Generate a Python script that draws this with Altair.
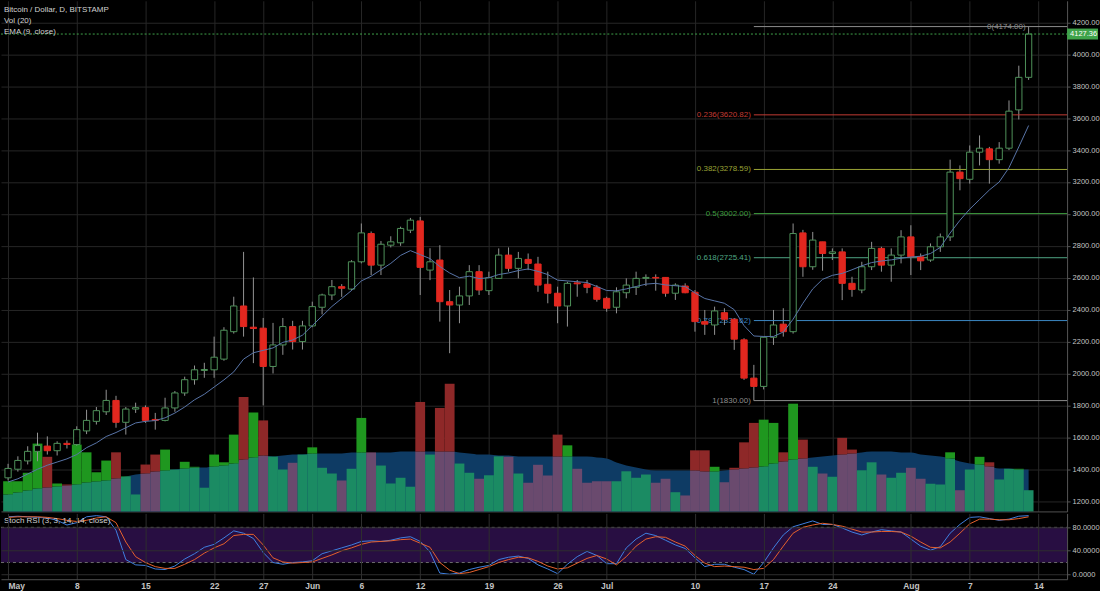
import json
import altair as alt
import pandas as pd

# ---------------- data ----------------
# day index 0 = 1 May 2017 ... 104 = 13 Aug 2017
opens = [1346, 1400, 1452, 1512, 1545, 1516, 1562, 1555, 1640, 1700,
         1760, 1831, 1694, 1777, 1786, 1712, 1706, 1784, 1878, 1961,
         2019, 2023, 2090, 2262, 2423, 2290, 2284, 2044, 2179, 2294,
         2200, 2298, 2415, 2492, 2544, 2529, 2700, 2877, 2679, 2804,
         2819, 2898, 2956, 2648, 2711, 2450, 2429, 2486, 2638, 2519,
         2596, 2742, 2659, 2715, 2686, 2559, 2503, 2423, 2568, 2561,
         2540, 2471, 2415, 2506, 2540, 2596, 2602, 2602, 2503, 2548,
         2509, 2325, 2304, 2381, 2340, 2211, 1971, 1919, 2227, 2309,
         2262, 2881, 2669, 2825, 2752, 2762, 2565, 2523, 2669, 2784,
         2679, 2742, 2856, 2731, 2711, 2794, 2856, 3262, 3217, 3387,
         3408, 3340, 3412, 3652, 3856]
highs = [1434, 1481, 1544, 1629, 1606, 1575, 1580, 1669, 1773, 1790,
         1898, 1860, 1790, 1817, 1800, 1753, 1848, 1890, 1980, 2050,
         2067, 2231, 2290, 2481, 2762, 2602, 2348, 2317, 2348, 2330,
         2330, 2450, 2500, 2586, 2560, 2710, 2940, 2890, 2830, 2860,
         2920, 2975, 2981, 2785, 2804, 2523, 2544, 2679, 2679, 2638,
         2784, 2790, 2762, 2752, 2731, 2638, 2544, 2575, 2586, 2586,
         2554, 2481, 2540, 2596, 2638, 2621, 2621, 2602, 2565, 2565,
         2523, 2398, 2419, 2409, 2346, 2221, 2054, 2231, 2398, 2409,
         2940, 2900, 2887, 2825, 2784, 2784, 2606, 2700, 2825, 2794,
         2784, 2898, 2929, 2752, 2815, 2877, 3340, 3304, 3429, 3492,
         3420, 3450, 3711, 3929, 4174]
lows = [1330, 1385, 1430, 1450, 1492, 1486, 1530, 1548, 1620, 1680,
        1740, 1660, 1617, 1753, 1690, 1648, 1700, 1760, 1860, 1930,
        1973, 1973, 2080, 2250, 2231, 2065, 1800, 2000, 2117, 2150,
        2150, 2290, 2370, 2460, 2480, 2520, 2690, 2617, 2617, 2790,
        2800, 2880, 2492, 2585, 2325, 2127, 2315, 2429, 2492, 2492,
        2596, 2638, 2596, 2648, 2512, 2440, 2315, 2294, 2481, 2503,
        2450, 2387, 2377, 2471, 2492, 2548, 2519, 2481, 2461, 2503,
        2262, 2242, 2242, 2304, 2148, 1960, 1830, 1900, 2179, 2231,
        2250, 2606, 2650, 2644, 2711, 2460, 2481, 2503, 2648, 2638,
        2575, 2690, 2617, 2648, 2700, 2762, 2830, 3148, 3190, 3304,
        3190, 3315, 3400, 3592, 3840]
closes = [1405, 1455, 1512, 1548, 1516, 1562, 1555, 1648, 1706, 1767,
          1831, 1694, 1777, 1786, 1706, 1706, 1784, 1878, 1961, 2023,
          2025, 2102, 2271, 2423, 2294, 2282, 2044, 2179, 2294, 2200,
          2298, 2419, 2492, 2544, 2534, 2700, 2881, 2679, 2810, 2825,
          2909, 2961, 2665, 2700, 2450, 2429, 2486, 2638, 2523, 2600,
          2742, 2659, 2721, 2690, 2554, 2503, 2423, 2565, 2562, 2540,
          2465, 2409, 2512, 2554, 2596, 2602, 2598, 2503, 2554, 2506,
          2325, 2309, 2392, 2340, 2215, 1971, 1919, 2227, 2304, 2262,
          2877, 2669, 2836, 2752, 2762, 2565, 2527, 2669, 2784, 2679,
          2742, 2856, 2731, 2706, 2794, 2856, 3262, 3221, 3387, 3412,
          3340, 3412, 3644, 3856, 4127.36]
# volume, thousand BTC
volumes = [12.1, 12.1, 15.5, 27.2, 21.9, 11.2, 10.8, 26.8, 23.7, 15.7,
           20.4, 23.7, 14.1, 6.8, 18.8, 22.8, 24.8, 16.8, 19.9, 17.9,
           9.5, 22.8, 19.7, 30.8, 45.9, 39.7, 36.5, 22.0, 16.8, 19.5,
           22.8, 25.7, 17.5, 15.2, 12.4, 17.1, 37.5, 23.7, 18.4, 11.2,
           13.5, 9.9, 43.9, 22.8, 41.5, 51.2, 19.2, 15.5, 13.1, 14.5,
           22.1, 21.9, 15.2, 11.5, 18.7, 14.4, 30.8, 26.5, 17.1, 11.5,
           12.1, 12.1, 12.1, 16.1, 13.5, 14.8, 11.5, 13.1, 7.7, 6.4,
           24.5, 24.5, 17.9, 11.7, 17.5, 27.7, 35.5, 36.8, 35.5, 23.7,
           43.2, 28.8, 17.9, 15.2, 13.9, 29.5, 24.8, 16.5, 19.7, 14.8,
           13.5, 15.5, 17.5, 13.1, 11.1, 10.8, 23.7, 8.5, 16.8, 21.9,
           19.7, 12.8, 17.1, 17.1, 8.5]
vol_ma = [6.8, 7.6, 8.4, 9.2, 9.6, 10.0, 10.4, 10.8, 11.6, 12.0,
          12.4, 13.2, 14.0, 14.8, 15.2, 16.0, 16.4, 16.8, 17.2, 17.6,
          17.6, 18.0, 18.4, 19.2, 20.8, 21.6, 22.4, 22.0, 22.4, 22.8,
          22.8, 23.2, 23.2, 23.2, 23.2, 23.6, 23.6, 23.6, 23.6, 23.6,
          24.0, 24.0, 24.0, 24.0, 24.0, 24.0, 23.6, 23.2, 22.8, 22.8,
          22.4, 22.4, 22.0, 22.0, 22.0, 22.0, 22.0, 22.0, 22.0, 22.0,
          21.6, 21.2, 19.6, 18.4, 17.6, 16.8, 16.4, 16.4, 16.4, 16.4,
          16.4, 16.0, 16.0, 16.4, 16.8, 17.2, 17.6, 18.0, 19.2, 20.0,
          20.8, 21.2, 21.6, 22.0, 22.4, 22.8, 23.2, 23.6, 24.0, 24.0,
          24.0, 23.6, 23.6, 22.8, 22.4, 22.0, 21.2, 20.0, 19.2, 18.8,
          18.0, 17.2, 17.2, 16.8, 16.8]
# colour of each volume bar: u = up (green), d = down (red)
vol_dir = list("uuuududuuu" "uduudduuuu" "uuuududuud" "uuuuduuduu"
               "uududduudu" "ududdddudd" "dduuuuddud" "ddudddduud"
               "udududduud" "uudduuuduu" "duuuu")
ema9 = [1320, 1340, 1370, 1400, 1425, 1445, 1465, 1492, 1535, 1565,
        1605, 1630, 1660, 1690, 1700, 1705, 1722, 1752, 1790, 1835,
        1870, 1915, 1960, 2010, 2090, 2130, 2145, 2160, 2195, 2210,
        2240, 2300, 2360, 2420, 2470, 2520, 2580, 2610, 2650, 2690,
        2740, 2770, 2745, 2720, 2670, 2630, 2600, 2610, 2595, 2600,
        2620, 2630, 2645, 2655, 2640, 2620, 2585, 2580, 2575, 2570,
        2545, 2520, 2518, 2530, 2545, 2560, 2565, 2555, 2550, 2545,
        2505, 2470, 2455, 2440, 2400, 2300, 2235, 2232, 2232, 2260,
        2340, 2440, 2530, 2590, 2615, 2627, 2650, 2675, 2695, 2705,
        2712, 2722, 2730, 2735, 2752, 2790, 2880, 2960, 3030, 3090,
        3150, 3200, 3290, 3420, 3554]
stoch_k = [98, 99, 98, 97, 96, 92, 84, 88, 98, 100,
           98, 75, 25, 16, 15, 9, 8, 14, 26, 35,
           46, 51, 62, 74, 70, 61, 37, 20, 17, 20,
           21, 23, 35, 40, 45, 50, 56, 57, 56, 58,
           62, 64, 56, 38, 2, 0, 2, 8, 12, 15,
           25, 29, 31, 27, 16, 9, 1, 17, 30, 39,
           32, 18, 18, 45, 60, 70, 66, 58, 50, 44,
           28, 13, 17, 17, 12, 8, 0, 20, 45, 67,
           81, 86, 91, 85, 85, 79, 72, 67, 72, 76,
           74, 72, 60, 48, 41, 47, 70, 85, 97, 98,
           95, 92, 94, 99, 100]
stoch_d = [97, 98, 98, 98, 97, 95, 92, 90, 92, 96,
           98, 88, 55, 30, 20, 13, 10, 10, 17, 25,
           36, 45, 52, 66, 68, 68, 50, 28, 21, 19,
           20, 21, 27, 33, 40, 45, 51, 55, 56, 57,
           59, 60, 53, 46, 20, 7, 1, 3, 8, 13,
           20, 25, 29, 28, 22, 14, 9, 11, 19, 27,
           32, 26, 16, 30, 48, 60, 64, 63, 55, 48,
           32, 19, 13, 14, 13, 12, 8, 10, 25, 48,
           70, 80, 84, 87, 85, 82, 77, 72, 72, 73,
           73, 72, 65, 55, 46, 45, 55, 70, 86, 94,
           94, 93, 93, 95, 98]

tick_days = [0, 7, 14, 21, 26, 31, 36, 42, 49, 56, 61, 70, 77, 84, 92, 98, 105]
tick_labels = ["May", "8", "15", "22", "27", "Jun", "6", "12", "19", "26",
               "Jul", "10", "17", "24", "Aug", "7", "14"]
price_ticks = [1200, 1400, 1600, 1800, 2000, 2200, 2400, 2600, 2800, 3000,
               3200, 3400, 3600, 3800, 4000, 4200]
stoch_ticks = [0, 40, 80]

fib_levels = ["0", "0.236", "0.382", "0.5", "0.618", "0.786", "1"]
fib_prices = [4174.00, 3620.82, 3278.59, 3002.00, 2725.41, 2331.62, 1830.00]
fib_start_day = 76
fib_label_days = [104, 76, 76, 76, 76, 76, 76]
last_price = 4127.36

title_main = "Bitcoin / Dollar, D, BITSTAMP"
title_vol = "Vol (20)"
title_ema = "EMA (9, close)"
title_stoch = "Stoch RSI (3, 3, 14, 14, close)"

# ---------------- styles ----------------
FONT = "Liberation Sans"
PW, MAIN_H, ST_H = 1069, 512, 66
GRID = "#262626"
SEP = "#505050"
LABEL = "#c4c4c4"
TXT = "#d2d2d2"
WICK = "#949494"
UP_EDGE = "#4e9159"
DOWN = "#e2271f"
EMA_C = "#5874a8"
K_C = "#3f7fe0"
D_C = "#e5602c"
BAND = "#280e42"
TEAL, PURPLE, GREEN, RED, MA_C = "#1b8b63", "#6a4a6e", "#1f971f", "#8e2828", "#0e3b64"
fib_colors = ["#8d8d8d", "#c23b33", "#9aa335", "#3e9e3e", "#4fa684", "#3b88c4", "#8d8d8d"]
LP_C = "#3fa34a"

# ---------------- frames ----------------
df = pd.DataFrame({
    "day": list(range(len(opens))), "open": opens, "high": highs, "low": lows,
    "close": closes, "vol": volumes, "vma": vol_ma, "vdir": vol_dir,
    "ema": ema9, "k": stoch_k, "d": stoch_d,
})
fib_df = pd.DataFrame({
    "level": fib_levels, "price": fib_prices,
    "start": [fib_start_day] * len(fib_levels), "label_day": fib_label_days,
    "text": [f"{l}({p:.2f})" for l, p in zip(fib_levels, fib_prices)],
})
lp_df = pd.DataFrame({"price": [last_price], "text": [f"{last_price:.2f}"]})
one = pd.DataFrame({"a": [0]})

x_scale = alt.Scale(domain=[-0.72, 107.92], nice=False, zero=False)
price_scale = alt.Scale(domain=[1135.6, 4335.6], nice=False, zero=False)
vol_scale = alt.Scale(domain=[0, 204.8], nice=False, zero=False)
st_scale = alt.Scale(domain=[-8.5, 103.8], nice=False, zero=False)

label_expr = f"{json.dumps(tick_labels)}[indexof({json.dumps(tick_days)}, datum.value)]"

# identical axis objects are given to every layer that shares a scale
main_x_axis = alt.Axis(values=tick_days, labels=False, ticks=False, domain=True,
                       domainColor=SEP, grid=True, gridColor=GRID, title=None)
price_axis = alt.Axis(orient="right", values=price_ticks,
                      labelExpr="format(datum.value, '.2f')", grid=True,
                      gridColor=GRID, domainColor="#555555", tickColor="#555555",
                      tickSize=3, labelColor=LABEL, labelFontSize=7.5, labelFont=FONT,
                      labelPadding=2, title=None, labelOverlap=False)
st_axis = alt.Axis(orient="right", values=stoch_ticks,
                   labelExpr="format(datum.value, '.4f')", grid=True, gridColor="#2e2e2e",
                   domainColor="#555555", tickColor="#555555", tickSize=3,
                   labelColor=LABEL, labelFontSize=7.5, labelFont=FONT, labelPadding=2,
                   title=None, labelOverlap=False, zindex=1)
bottom_axis = alt.Axis(values=tick_days, labelExpr=label_expr, grid=True,
                       gridColor="#2e2e2e", domain=True, domainColor=SEP, ticks=False,
                       labelColor=LABEL, labelFontSize=8.5, labelFontWeight="bold",
                       labelFont=FONT, labelPadding=2, title=None, labelOverlap=False,
                       labelFlush=10, zindex=1)


def MX(field):
    return alt.X(f"{field}:Q", scale=x_scale, axis=main_x_axis)


def SX(field):
    return alt.X(f"{field}:Q", scale=x_scale, axis=bottom_axis)


def PY(field):
    return alt.Y(f"{field}:Q", scale=price_scale, axis=price_axis)


def VY(field):
    return alt.Y(f"{field}:Q", scale=vol_scale, axis=None)


def SY(field):
    return alt.Y(f"{field}:Q", scale=st_scale, axis=st_axis)


def label(txt, y):
    return alt.Chart(one).mark_text(align="left", baseline="middle", fontSize=8,
                                    color=TXT, font=FONT).encode(
        x=alt.value(3), y=alt.value(y), text=alt.value(txt))


# ---------------- volume ----------------
vol_base = alt.Chart(df).transform_calculate(
    xl="datum.day - 0.5", xr="datum.day + 0.5",
    under="min(datum.vol, datum.vma)", zero="0")
vol_area = alt.Chart(df).mark_area(color=MA_C, interpolate="monotone").encode(
    x=MX("day"), y=VY("vma"))
vol_under = vol_base.mark_rect().encode(
    x=MX("xl"), x2="xr:Q", y=VY("under"), y2="zero:Q",
    color=alt.condition("datum.vdir == 'u'", alt.value(TEAL), alt.value(PURPLE)))
vol_over = vol_base.transform_filter("datum.vol > datum.vma").mark_rect().encode(
    x=MX("xl"), x2="xr:Q", y=VY("vol"), y2="vma:Q",
    color=alt.condition("datum.vdir == 'u'", alt.value(GREEN), alt.value(RED)))
vol_group = alt.layer(vol_area, vol_under, vol_over)

# ---------------- price ----------------
wicks = alt.Chart(df).mark_rule(color=WICK, strokeWidth=1).encode(
    x=MX("day"), y=PY("low"), y2="high:Q")
up_cond = "datum.close >= datum.open"
bodies = alt.Chart(df).transform_calculate(
    bl="datum.day - 0.32", br="datum.day + 0.32").mark_rect(strokeWidth=1).encode(
    x=MX("bl"), x2="br:Q", y=PY("open"), y2="close:Q",
    fill=alt.condition(up_cond, alt.value("#000000"), alt.value(DOWN)),
    stroke=alt.condition(up_cond, alt.value(UP_EDGE), alt.value(DOWN)))
ema_line = alt.Chart(df).mark_line(color=EMA_C, strokeWidth=1).encode(
    x=MX("day"), y=PY("ema"))

fib_color = alt.Color("level:N", scale=alt.Scale(domain=fib_levels, range=fib_colors),
                      legend=None)
fib_lines = alt.Chart(fib_df).mark_rule(strokeWidth=1).encode(
    x=MX("start"), x2=alt.value(PW), y=PY("price"), color=fib_color)
fib_text = alt.Chart(fib_df).mark_text(align="right", baseline="middle", dx=-3,
                                       fontSize=8, font=FONT).encode(
    x=MX("label_day"), y=PY("price"), text="text:N", color=fib_color)

lp_line = alt.Chart(lp_df).mark_rule(color=LP_C, strokeDash=[2, 2], strokeWidth=1).encode(
    x=alt.value(0), x2=alt.value(PW), y=PY("price"))
lp_box = alt.Chart(lp_df).mark_rect(color=LP_C, yOffset=-5.5, y2Offset=5.5).encode(
    x=alt.value(PW), x2=alt.value(1100), y=PY("price"), y2="price:Q")
lp_text = alt.Chart(lp_df).mark_text(align="left", baseline="middle", dx=3, fontSize=7.5,
                                     color="#ffffff", font=FONT).encode(
    x=alt.value(PW), y=PY("price"), text="text:N")

price_group = alt.layer(
    wicks, fib_lines, fib_text, bodies, ema_line, lp_line, lp_box, lp_text,
    label(title_main, 9.5), label(title_vol, 20.5), label(title_ema, 31.5))

main = alt.layer(vol_group, price_group).resolve_scale(y="independent").properties(
    width=PW, height=MAIN_H)

# ---------------- stoch RSI ----------------
band_df = pd.DataFrame({"lo": [20], "hi": [80]})
lev_df = pd.DataFrame({"lvl": [20, 80]})
band = alt.Chart(band_df).mark_rect(color=BAND).encode(
    x=alt.value(0), x2=alt.value(PW), y=SY("hi"), y2="lo:Q")
lev = alt.Chart(lev_df).mark_rule(color="#6b6b6b", strokeDash=[3, 3], strokeWidth=1).encode(
    x=alt.value(0), x2=alt.value(PW), y=SY("lvl"))
kline = alt.Chart(df).mark_line(color=K_C, strokeWidth=1).encode(x=SX("day"), y=SY("k"))
dline = alt.Chart(df).mark_line(color=D_C, strokeWidth=1).encode(x=SX("day"), y=SY("d"))

stoch = alt.layer(band, lev, kline, dline, label(title_stoch, 8)).properties(
    width=PW, height=ST_H)

chart = alt.vconcat(main, stoch, spacing=2).properties(
    padding=0, background="#000000").configure_view(stroke=None)

chart.save("out.html", embed_options={"renderer": "svg", "actions": False})
